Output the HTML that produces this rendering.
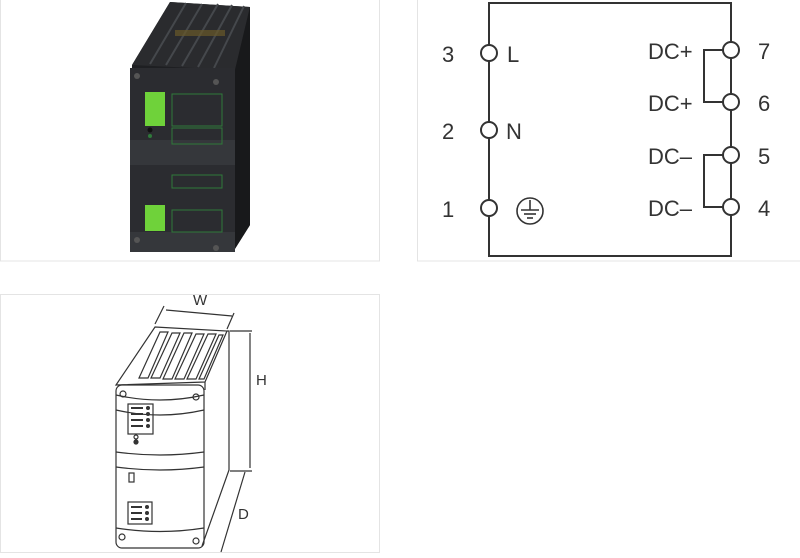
<!DOCTYPE html>
<html><head><style>
html,body{margin:0;padding:0;background:#fff;width:800px;height:558px;overflow:hidden}
svg{display:block}
text{font-family:"Liberation Sans",sans-serif}
</style></head><body>
<svg width="800" height="558" viewBox="0 0 800 558" xmlns="http://www.w3.org/2000/svg">
<!-- panel frames -->
<rect x="0.5" y="-1" width="379" height="262" fill="none" stroke="#e4e4e4"/>
<rect x="417.5" y="-1" width="390" height="262" fill="none" stroke="#e4e4e4"/>
<rect x="0.5" y="294.5" width="379" height="258" fill="none" stroke="#e4e4e4"/>

<!-- photo -->
<polygon points="132,65 170,2 250,7 250,225 233,252 130,250" fill="#1e1f22"/>
<polygon points="132,65 170,2 250,7 235,70" fill="#2a2b2e"/>
<g stroke="#45484c" stroke-width="2">
<line x1="150" y1="64" x2="186" y2="3"/><line x1="166" y1="65" x2="202" y2="4"/>
<line x1="182" y1="66" x2="218" y2="4"/><line x1="198" y1="67" x2="232" y2="5"/>
<line x1="214" y1="68" x2="244" y2="6"/>
</g>
<rect x="175" y="30" width="50" height="6" fill="#6a5a2a" opacity="0.7"/>
<polygon points="235,70 250,7 250,225 233,252" fill="#18191b"/>
<rect x="130" y="68" width="105" height="72" fill="#2b2c30"/>
<rect x="130" y="140" width="105" height="25" fill="#35373b"/>
<rect x="130" y="165" width="105" height="67" fill="#2b2c30"/>
<rect x="130" y="232" width="105" height="20" fill="#35373b"/>
<rect x="145" y="92" width="20" height="34" fill="#6fd23a"/>
<rect x="145" y="205" width="20" height="26" fill="#6fd23a"/>
<rect x="172" y="94" width="50" height="32" fill="none" stroke="#2f7a3a"/>
<rect x="172" y="128" width="50" height="16" fill="none" stroke="#2f7a3a"/>
<rect x="172" y="175" width="50" height="13" fill="none" stroke="#2f7a3a"/>
<rect x="172" y="210" width="50" height="22" fill="none" stroke="#2f7a3a"/>
<circle cx="150" cy="130" r="2.5" fill="#111"/><circle cx="150" cy="136" r="2" fill="#2f7a3a"/>
<circle cx="137" cy="76" r="3" fill="#555"/><circle cx="216" cy="82" r="3" fill="#555"/>
<circle cx="137" cy="240" r="3" fill="#555"/><circle cx="216" cy="248" r="3" fill="#555"/>

<!-- schematic -->
<g stroke="#333" stroke-width="2" fill="none">
<polyline points="489,45 489,3 731,3 731,42"/>
<line x1="489" y1="61" x2="489" y2="122"/>
<line x1="489" y1="138" x2="489" y2="200"/>
<polyline points="489,216 489,256 731,256 731,215"/>
<line x1="731" y1="58" x2="731" y2="94"/>
<line x1="731" y1="110" x2="731" y2="147"/>
<line x1="731" y1="163" x2="731" y2="199"/>
<polyline points="723,50 704,50 704,102 723,102"/>
<polyline points="723,155 704,155 704,207 723,207"/>
<circle cx="489" cy="53" r="8"/><circle cx="489" cy="130" r="8"/><circle cx="489" cy="208" r="8"/>
<circle cx="731" cy="50" r="8"/><circle cx="731" cy="102" r="8"/><circle cx="731" cy="155" r="8"/><circle cx="731" cy="207" r="8"/>
<circle cx="530" cy="211" r="13" stroke-width="1.6"/>
<line x1="530" y1="200" x2="530" y2="210" stroke-width="1.6"/>
<line x1="521" y1="210" x2="539" y2="210" stroke-width="1.6"/>
<line x1="524" y1="214" x2="536" y2="214" stroke-width="1.6"/>
<line x1="527" y1="218" x2="533" y2="218" stroke-width="1.6"/>
</g>
<g font-size="22" fill="#333">
<text x="442" y="62">3</text><text x="442" y="139">2</text><text x="442" y="217">1</text>
<text x="507" y="62">L</text><text x="506" y="139">N</text>
<text x="648" y="59">DC+</text><text x="648" y="111">DC+</text>
<text x="648" y="164">DC–</text><text x="648" y="216">DC–</text>
<text x="758" y="59">7</text><text x="758" y="111">6</text><text x="758" y="164">5</text><text x="758" y="216">4</text>
</g>

<!-- line drawing -->
<g stroke="#333" stroke-width="1.2" fill="none">
<polygon points="155,327 227,331 205,382 116,385"/>
<polyline points="227,331 229,331 229,470 202,546"/>
<line x1="205" y1="382" x2="205" y2="390"/>
<rect x="116" y="385" width="88" height="163" rx="6"/>
<path d="M116,395 Q160,405 204,395 M116,410 Q160,420 204,410"/>
<path d="M116,452 Q160,458 204,452 M116,467 Q160,473 204,467"/>
<path d="M116,528 Q160,535 204,528"/>
<rect x="128" y="404" width="25" height="30"/>
<rect x="128" y="502" width="24" height="22"/>
<rect x="129" y="473" width="5" height="9"/>
<circle cx="123" cy="394" r="3"/><circle cx="196" cy="397" r="3"/>
<circle cx="122" cy="537" r="3"/><circle cx="196" cy="541" r="3"/>
<circle cx="136" cy="437" r="2"/><circle cx="136" cy="442" r="2" fill="#333"/>
<polygon points="160,332 168,332 148,378 139,378"/>
<polygon points="172,333 180,333 160,378 151,378"/>
<polygon points="184,333 192,333 172,379 163,379"/>
<polygon points="196,334 204,334 184,379 175,379"/>
<polygon points="208,334 216,334 196,379 187,379"/>
<polygon points="219,335 223,335 204,379 199,379"/>
<line x1="166" y1="310" x2="232" y2="316"/>
<line x1="155" y1="324" x2="164" y2="306"/><line x1="227" y1="329" x2="234" y2="313"/>
<line x1="230" y1="331" x2="252" y2="331"/><line x1="250" y1="333" x2="250" y2="468"/>
<line x1="230" y1="471" x2="252" y2="471"/>
<line x1="245" y1="472" x2="221" y2="552"/>
</g>
<g fill="#333">
<circle cx="148" cy="408" r="2"/><circle cx="148" cy="414" r="2"/><circle cx="148" cy="420" r="2"/><circle cx="148" cy="426" r="2"/>
<rect x="131" y="407" width="12" height="2"/><rect x="131" y="413" width="12" height="2"/><rect x="131" y="419" width="12" height="2"/><rect x="131" y="425" width="12" height="2"/>
<circle cx="147" cy="507" r="2"/><circle cx="147" cy="513" r="2"/><circle cx="147" cy="519" r="2"/>
<rect x="131" y="506" width="11" height="2"/><rect x="131" y="512" width="11" height="2"/><rect x="131" y="518" width="11" height="2"/>
</g>
<g font-size="15" fill="#333">
<text x="193" y="305">W</text><text x="256" y="385">H</text><text x="238" y="519">D</text>
</g>
</svg>
</body></html>
